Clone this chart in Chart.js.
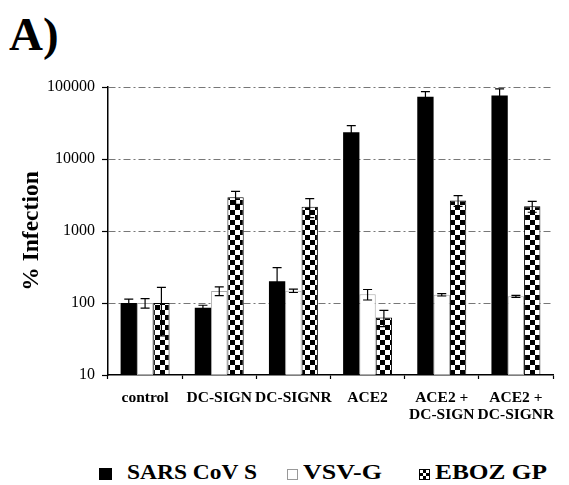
<!DOCTYPE html>
<html><head><meta charset="utf-8">
<script src="https://cdn.jsdelivr.net/npm/chart.js@4.4.1/dist/chart.umd.min.js"></script>
<style>
body{margin:0;background:#fff;}
#wrap{position:relative;width:569px;height:485px;overflow:hidden;font-family:"Liberation Serif","Times New Roman",serif;background:#fff;}
#chartBox{position:absolute;left:0;top:0;width:569px;height:440px;}
#title{position:absolute;left:9px;top:11px;font-weight:bold;font-size:47px;line-height:47px;color:#000;}
.legtxt{position:absolute;top:462px;font-weight:bold;font-size:21px;line-height:21px;white-space:nowrap;color:#000;transform-origin:0 50%;}
.box{position:absolute;box-sizing:border-box;}
</style>
</head><body>
<div id="wrap">
  <div id="title">A)</div>
  <div id="chartBox"><canvas id="c" width="569" height="440"></canvas></div>
  <div class="box" style="left:99px;top:468px;width:13px;height:12px;background:#000;"></div>
  <div class="legtxt" id="l1" style="left:127px;">SARS CoV S</div>
  <div class="box" style="left:287px;top:469px;width:11px;height:11px;border:1px solid #999;background:#fff;"></div>
  <div class="legtxt" id="l2" style="left:303px;">VSV-G</div>
  <div class="box" style="left:419px;top:469px;width:11px;height:11px;border:1px solid #000;background:repeating-conic-gradient(#000 0 25%, #fff 0 50%) 0 0/6px 6px;"></div>
  <div class="legtxt" id="l3" style="left:435px;">EBOZ GP</div>
</div>
<script>
const categories = ['control', 'DC-SIGN', 'DC-SIGNR', 'ACE2', ['ACE2 +', 'DC-SIGN'], ['ACE2 +', 'DC-SIGNR']];
const sarsValues = [100, 86, 200, 23500, 73000, 76000];
const sarsErrors = [13, 7, 110, 5500, 13000, 18000];
const vsvValues = [100, 147, 148, 132, 130, 124];
const vsvErrors = [15, 20, 8, 22, 5, 4];
const ebozValues = [100, 2950, 2170, 63, 2650, 2200];
const ebozErrors = [65, 600, 640, 16, 450, 380];
const yTicks = [10, 100, 1000, 10000, 100000];
const seriesNames = ['SARS CoV S', 'VSV-G', 'EBOZ GP'];

// fit legend texts to reference widths
const legendWidths = {l1: 130, l2: 79, l3: 112};
for (const id in legendWidths) {
  const el = document.getElementById(id);
  const w = el.getBoundingClientRect().width;
  el.style.transform = 'scaleX(' + (legendWidths[id] / w) + ')';
}

const canvas = document.getElementById('c');
const ctx0 = canvas.getContext('2d');
function checker(cell) {
  const c = document.createElement('canvas');
  c.width = c.height = cell * 2;
  const x = c.getContext('2d');
  x.fillStyle = '#fff'; x.fillRect(0, 0, cell * 2, cell * 2);
  x.fillStyle = '#000'; x.fillRect(0, 0, cell, cell); x.fillRect(cell, cell, cell, cell);
  return ctx0.createPattern(c, 'repeat');
}
const checkerPattern = checker(5);

const errorBars = {
  id: 'errorBars',
  afterDatasetsDraw(chart) {
    const ctx = chart.ctx;
    const y = chart.scales.y;
    chart.data.datasets.forEach((ds, di) => {
      const meta = chart.getDatasetMeta(di);
      meta.data.forEach((bar, i) => {
        const v = ds.data[i], e = ds.errors[i];
        const top = y.getPixelForValue(v + e);
        const bot = y.getPixelForValue(Math.max(v - e, 10.01));
        const cap = 4.5;
        ctx.save();
        ctx.strokeStyle = '#000';
        ctx.lineWidth = 1.2;
        ctx.beginPath();
        ctx.moveTo(bar.x, top); ctx.lineTo(bar.x, bot);
        ctx.moveTo(bar.x - cap, top); ctx.lineTo(bar.x + cap, top);
        ctx.moveTo(bar.x - cap, bot); ctx.lineTo(bar.x + cap, bot);
        ctx.stroke();
        ctx.restore();
      });
    });
  }
};

const serif = '"Liberation Serif", "Times New Roman", serif';

new Chart(canvas, {
  type: 'bar',
  data: {
    labels: categories,
    datasets: [
      {label: seriesNames[0], data: sarsValues, errors: sarsErrors, backgroundColor: '#000', borderColor: '#000', borderWidth: 0},
      {label: seriesNames[1], data: vsvValues, errors: vsvErrors, backgroundColor: '#fff', borderColor: '#aaa', borderWidth: 1},
      {label: seriesNames[2], data: ebozValues, errors: ebozErrors, backgroundColor: checkerPattern, borderColor: '#000', borderWidth: 1}
    ]
  },
  options: {
    responsive: false,
    animation: false,
    layout: {padding: {left: 0, right: 16, top: 87, bottom: 0}},
    plugins: {legend: {display: false}, tooltip: {enabled: false}},
    datasets: {bar: {categoryPercentage: 0.66, barPercentage: 1.0, borderSkipped: false}},
    scales: {
      x: {
        type: 'category',
        offset: true,
        grid: {display: true, drawOnChartArea: false, offset: true, tickLength: 4, tickColor: '#000', tickWidth: 1.2},
        border: {display: true, color: '#000', width: 1.5},
        ticks: {color: '#000', font: {family: serif, size: 15.5, weight: 'bold', lineHeight: 1.08}, padding: 11, maxRotation: 0, autoSkip: false},
        afterFit(scale) { scale.height = 65; }
      },
      y: {
        type: 'logarithmic',
        min: 10,
        max: 100000,
        afterBuildTicks(scale) { scale.ticks = yTicks.map(v => ({value: v})); },
        grid: {
          color: (c) => (c.tick && c.tick.value === 10) ? 'rgba(0,0,0,0)' : '#777',
          lineWidth: 1,
          tickLength: 6, tickColor: '#000', tickWidth: 1.2
        },
        border: {display: true, color: '#000', width: 1.5, dash: [7, 3, 2, 3]},
        ticks: {color: '#000', font: {family: serif, size: 16}, padding: 7, callback: (v) => String(v)},
        title: {display: true, text: '% Infection', color: '#000', font: {family: serif, size: 23.5, weight: 'bold'}, padding: {top: 18, bottom: 0}},
        afterFit(scale) { scale.width = 108; }
      }
    }
  },
  plugins: [errorBars]
});
</script>
</body></html>
